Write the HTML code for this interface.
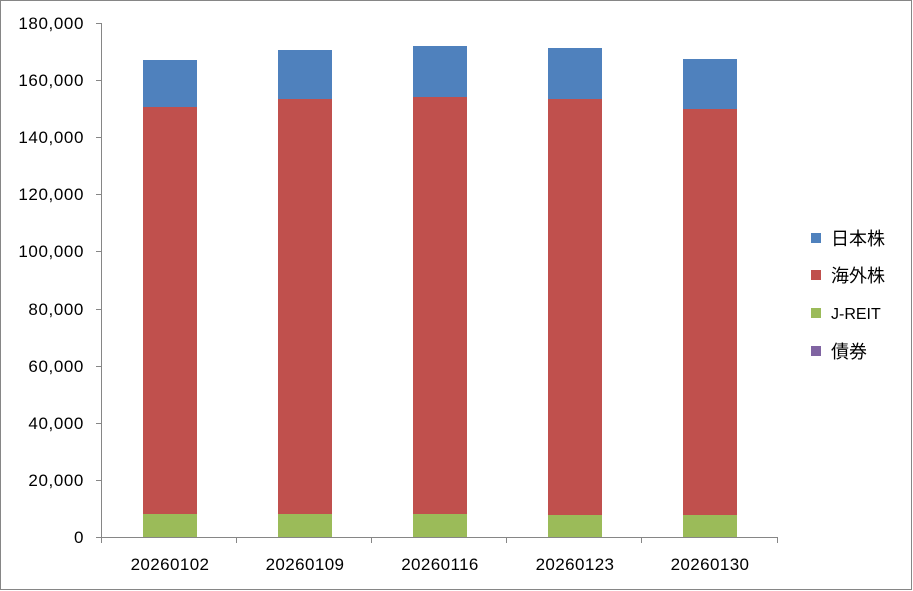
<!DOCTYPE html>
<html><head><meta charset="utf-8"><style>
html,body{margin:0;padding:0;background:#fff}
svg{display:block}
text{font-family:"Liberation Sans","Noto Sans CJK JP",sans-serif;fill:#000}
</style></head><body>
<svg width="913" height="591" viewBox="0 0 913 591" xmlns="http://www.w3.org/2000/svg">
<rect x="0.5" y="0.5" width="911" height="589" fill="#fff" stroke="#868686"/>
<g stroke="#868686" stroke-width="1">
<line x1="101.5" y1="23" x2="101.5" y2="537"/>
<line x1="96" y1="537.5" x2="778" y2="537.5"/>
<line x1="96" y1="23.5" x2="101" y2="23.5"/>
<line x1="96" y1="80.5" x2="101" y2="80.5"/>
<line x1="96" y1="137.5" x2="101" y2="137.5"/>
<line x1="96" y1="194.5" x2="101" y2="194.5"/>
<line x1="96" y1="251.5" x2="101" y2="251.5"/>
<line x1="96" y1="309.5" x2="101" y2="309.5"/>
<line x1="96" y1="366.5" x2="101" y2="366.5"/>
<line x1="96" y1="423.5" x2="101" y2="423.5"/>
<line x1="96" y1="480.5" x2="101" y2="480.5"/>
<line x1="101.5" y1="537" x2="101.5" y2="543"/>
<line x1="236.5" y1="537" x2="236.5" y2="543"/>
<line x1="371.5" y1="537" x2="371.5" y2="543"/>
<line x1="506.5" y1="537" x2="506.5" y2="543"/>
<line x1="641.5" y1="537" x2="641.5" y2="543"/>
<line x1="777.5" y1="537" x2="777.5" y2="543"/>
</g>
<g font-size="17" text-anchor="end" letter-spacing="0.6">
<text x="84" y="29">180,000</text>
<text x="84" y="86">160,000</text>
<text x="84" y="143">140,000</text>
<text x="84" y="200">120,000</text>
<text x="84" y="257">100,000</text>
<text x="84" y="315">80,000</text>
<text x="84" y="372">60,000</text>
<text x="84" y="429">40,000</text>
<text x="84" y="486">20,000</text>
<text x="84" y="543">0</text>
</g>
<g font-size="17" text-anchor="middle" letter-spacing="0.4">
<text x="170" y="570">20260102</text>
<text x="305" y="570">20260109</text>
<text x="440" y="570">20260116</text>
<text x="575" y="570">20260123</text>
<text x="710" y="570">20260130</text>
</g>
<g>
<rect x="143" y="60" width="54" height="47" fill="#4f81bd"/>
<rect x="143" y="107" width="54" height="407" fill="#c0504d"/>
<rect x="143" y="514" width="54" height="23" fill="#9bbb59"/>
<rect x="278" y="50" width="54" height="49" fill="#4f81bd"/>
<rect x="278" y="99" width="54" height="415" fill="#c0504d"/>
<rect x="278" y="514" width="54" height="23" fill="#9bbb59"/>
<rect x="413" y="46" width="54" height="51" fill="#4f81bd"/>
<rect x="413" y="97" width="54" height="417" fill="#c0504d"/>
<rect x="413" y="514" width="54" height="23" fill="#9bbb59"/>
<rect x="548" y="48" width="54" height="51" fill="#4f81bd"/>
<rect x="548" y="99" width="54" height="416" fill="#c0504d"/>
<rect x="548" y="515" width="54" height="22" fill="#9bbb59"/>
<rect x="683" y="59" width="54" height="50" fill="#4f81bd"/>
<rect x="683" y="109" width="54" height="406" fill="#c0504d"/>
<rect x="683" y="515" width="54" height="22" fill="#9bbb59"/>
</g>
<rect x="811" y="233" width="10" height="10" fill="#4f81bd"/>
<rect x="811" y="270" width="10" height="10" fill="#c0504d"/>
<rect x="811" y="308" width="10" height="10" fill="#9bbb59"/>
<rect x="811" y="346" width="10" height="10" fill="#8064a2"/>
<g font-size="18">
<text x="831" y="245">日本株</text>
<text x="831" y="282">海外株</text>
<text x="831" y="319" font-size="16">J-REIT</text>
<text x="831" y="358">債券</text>
</g>
</svg>
</body></html>
